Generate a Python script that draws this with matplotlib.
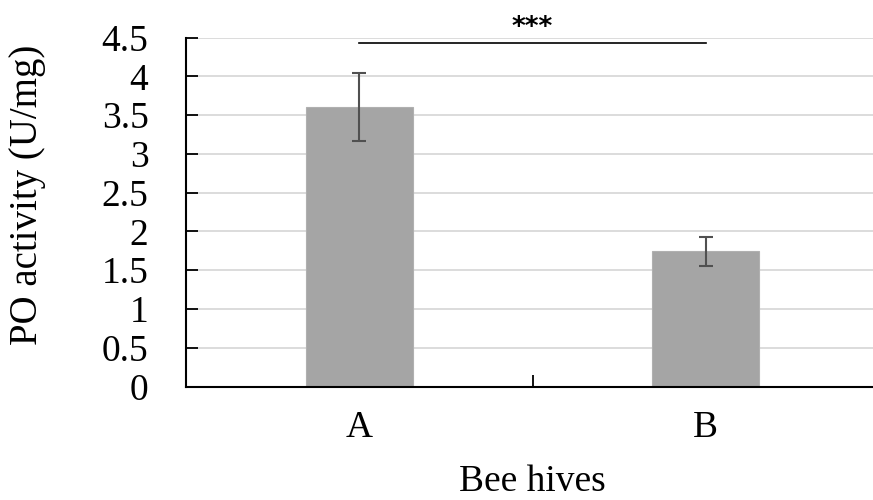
import matplotlib.pyplot as plt
import numpy as np

hives = ['A', 'B']
po_activity = [3.61, 1.745]
po_error = [0.44, 0.19]
sig_label = '***'
sig_level = 4.43

plt.rcParams['font.family'] = ['Liberation Serif', 'DejaVu Serif']

fig = plt.figure(figsize=(8.73, 5), dpi=100)
ax = fig.add_axes([186 / 873, 1 - 386.5 / 500, (879 - 186) / 873, (386.5 - 37.7) / 500])

x = np.arange(len(hives))
ax.bar(x, po_activity, width=0.31, color='#a5a5a5', edgecolor='#b0b0b0', linewidth=0.8, zorder=2)
ax.errorbar(x, po_activity, yerr=po_error, fmt='none', ecolor='#505050',
            elinewidth=1.5, capsize=4.7, capthick=1.5, zorder=3)

# significance bar between the two hives
ax.plot([x[0], x[1]], [sig_level, sig_level], color='black', lw=1.2, zorder=3, clip_on=False)
ax.text((x[0] + x[1]) / 2, 4.53, sig_label, ha='center', va='baseline',
        fontsize=19, family='DejaVu Sans', fontweight='bold', clip_on=False)

ax.set_xlim(-0.5, 1.5)
ax.set_ylim(0, 4.5)
ax.set_yticks(np.arange(0, 4.51, 0.5))
ax.set_yticklabels(['0', '0.5', '1', '1.5', '2', '2.5', '3', '3.5', '4', '4.5'])
ax.yaxis.grid(True, color='#d9d9d9', lw=1.3, zorder=0)
ax.set_axisbelow(True)

ax.set_xticks([0.5, 1.5])
ax.set_xticklabels([])
ax.set_xticks(x, minor=True)
ax.set_xticklabels(hives, minor=True)
ax.tick_params(axis='x', which='major', direction='in', length=8.5, width=1.3)
ax.tick_params(axis='x', which='minor', length=0, pad=17, labelsize=27)
ax.tick_params(axis='y', direction='in', length=8.5, width=1.3, pad=27, labelsize=27)

for s in ['top', 'right']:
    ax.spines[s].set_visible(False)
for s in ['left', 'bottom']:
    ax.spines[s].set_linewidth(1.5)

ax.set_ylabel('PO activity (U/mg)', fontsize=28)
ax.yaxis.set_label_coords(-0.202, 0.549)
ax.set_xlabel('Bee hives', fontsize=27)
ax.xaxis.set_label_coords(0.5, -0.225)

fig.savefig('out.png', dpi=100)
